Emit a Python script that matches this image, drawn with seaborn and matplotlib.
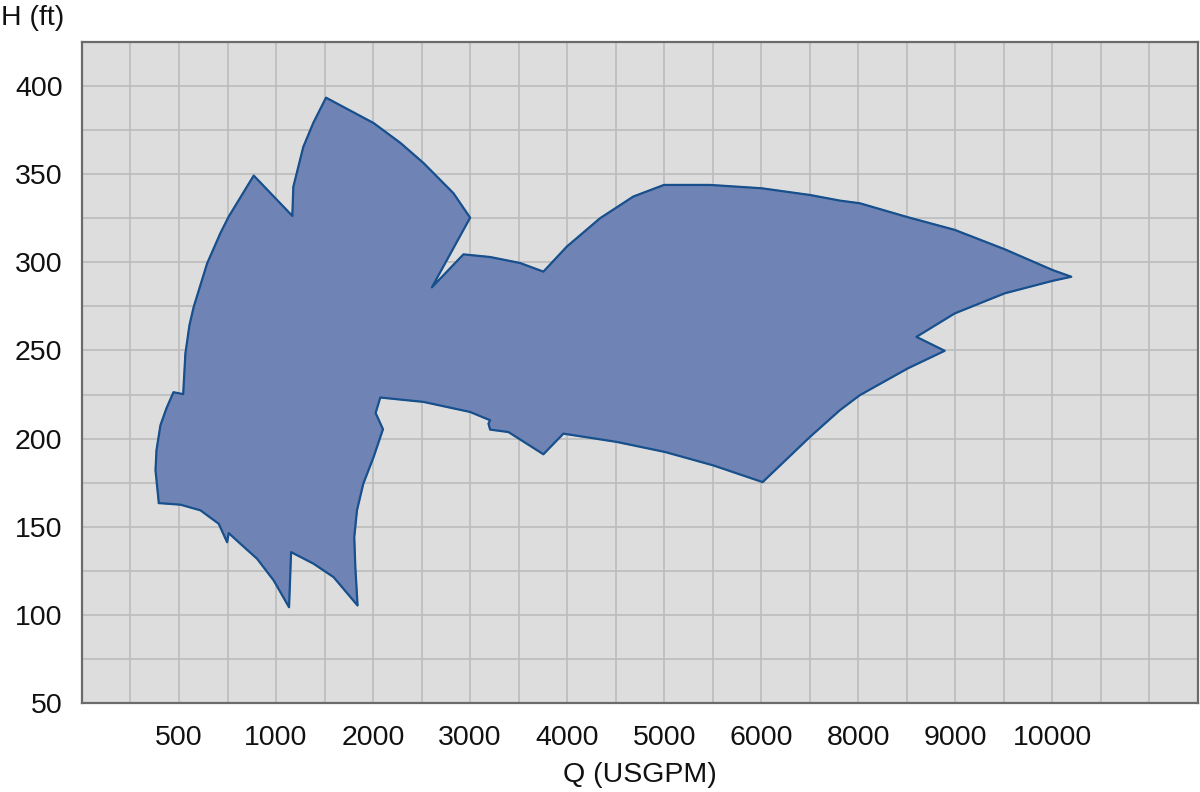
import numpy as np
import matplotlib
matplotlib.use('Agg')
import matplotlib.pyplot as plt
import seaborn as sns

# x axis is an index scale: tick labels sit at positions 1..10
q_labels = ['500', '1000', '2000', '3000', '4000', '5000', '6000', '8000', '9000', '10000']
q_label_pos = [1, 2, 3, 4, 5, 6, 7, 8, 9, 10]

# outline of the operating envelope (x in index units, H in ft)
env_x = [0.792, 0.758, 0.768, 0.809, 0.871, 0.943, 1.043, 1.066, 1.108, 1.152,
         1.290, 1.427, 1.512, 1.770, 2.168, 2.178, 2.281, 2.384, 2.515, 3.005,
         3.280, 3.520, 3.828, 4.000, 3.606, 3.931, 4.206, 4.515, 4.755,
         4.996, 5.339, 5.681, 5.998, 6.471, 7.003, 7.501, 7.810, 8.015, 8.509, 8.993,
         9.508, 10.002, 10.195, 10.002, 9.508, 8.993, 8.599, 8.890, 8.509, 8.015,
         7.810, 7.501, 7.014, 6.505, 6.008, 5.511, 4.961, 4.755, 4.395, 4.206,
         4.189, 4.206, 4.000, 3.520, 3.074, 3.026, 3.102, 3.005, 2.899, 2.834,
         2.806, 2.817, 2.840, 2.593, 2.387, 2.155, 2.134, 1.976, 1.805, 1.633,
         1.512, 1.496, 1.409, 1.221, 1.015]
env_h = [163.4, 182.0, 193.4, 207.6, 217.2, 226.3, 225.2, 248.3, 264.4, 274.8,
         299.4, 316.6, 325.9, 349.2, 326.3, 342.8, 365.5, 379.1, 393.4, 379.0,
         367.8, 356.3, 339.2, 325.3, 285.8, 304.5, 303.0, 299.6, 294.7,
         308.9, 325.0, 337.3, 343.9, 343.9, 342.0, 338.2, 335.0, 333.5, 325.6, 318.4,
         307.4, 295.6, 291.8, 289.5, 282.4, 271.0, 257.7, 249.8, 239.8, 224.6,
         216.1, 200.9, 175.3, 184.8, 192.4, 198.1, 202.8, 191.1, 203.7, 205.1,
         208.5, 210.4, 215.1, 220.8, 223.3, 214.5, 205.3, 189.5, 174.4, 159.3,
         144.1, 127.0, 105.3, 121.4, 129.0, 135.6, 104.3, 119.5, 131.8, 140.3,
         146.4, 141.2, 151.7, 159.3, 162.5]

sns.set_theme(style='white')
plt.rcParams['font.family'] = ['Liberation Sans', 'DejaVu Sans']

fig = plt.figure(figsize=(12, 7.92), dpi=100)
ax = fig.add_axes([0.0683, 0.1124, 0.93, 0.8346])
ax.set_facecolor('#dddddd')

# closed outline
xs = env_x + env_x[:1]
hs = env_h + env_h[:1]
ax.fill(xs, hs, color='#6f84b5', zorder=2)
sns.lineplot(x=xs, y=hs, sort=False, estimator=None, color='#17508c',
             linewidth=1.6, ax=ax, zorder=3)

ax.set_xlim(0, 11.5)
ax.set_ylim(50, 425)

xt = np.arange(0.5, 11.5, 0.5)
ax.set_xticks(xt)
ax.set_xticklabels([q_labels[q_label_pos.index(int(v))] if v == int(v) and int(v) in q_label_pos else '' for v in xt])
yt = np.arange(50, 426, 25)
ax.set_yticks(yt)
ax.set_yticklabels([str(int(v)) if v % 50 == 0 else '' for v in yt])
ax.tick_params(axis='both', length=0, labelsize=20.5, colors='#111111')
ax.tick_params(axis='x', pad=16)
ax.tick_params(axis='y', pad=14)

ax.grid(True, color='#bcbcbc', linewidth=1.2, zorder=1)
ax.set_axisbelow(True)
for s in ax.spines.values():
    s.set_color('#6a6a6a')
    s.set_linewidth(1.6)
    s.set_zorder(4)

fig.text(0.001, 0.977, 'H (ft)', fontsize=20.5, va='center', ha='left', color='#111111')
fig.text(0.533, 0.021, 'Q (USGPM)', fontsize=20.5, va='center', ha='center', color='#111111')

fig.savefig('out.png', dpi=100)
